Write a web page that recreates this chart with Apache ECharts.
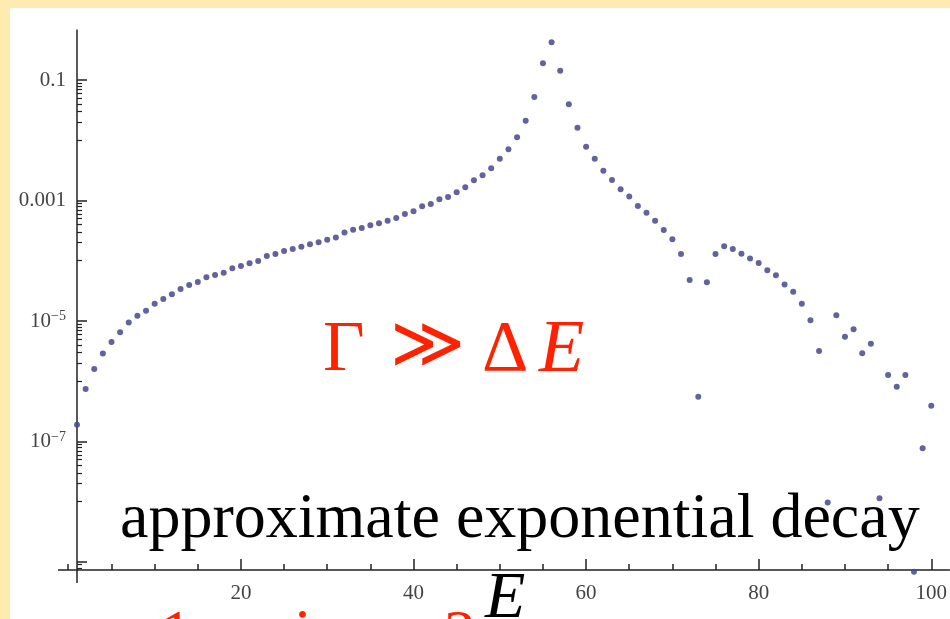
<!DOCTYPE html>
<html>
<head>
<meta charset="utf-8">
<script src="https://cdn.jsdelivr.net/npm/echarts@6/dist/echarts.min.js"></script>
<style>
html, body { margin: 0; padding: 0; background: #FFEAAF; }
#main { width: 950px; height: 619px; }
</style>
</head>
<body>
<div id="main"></div>
<script>
// energy index on the x axis
var energies = [1, 2, 3, 4, 5, 6, 7, 8, 9, 10,
  11, 12, 13, 14, 15, 16, 17, 18, 19, 20,
  21, 22, 23, 24, 25, 26, 27, 28, 29, 30,
  31, 32, 33, 34, 35, 36, 37, 38, 39, 40,
  41, 42, 43, 44, 45, 46, 47, 48, 49, 50,
  51, 52, 53, 54, 55, 56, 57, 58, 59, 60,
  61, 62, 63, 64, 65, 66, 67, 68, 69, 70,
  71, 72, 73, 74, 75, 76, 77, 78, 79, 80,
  81, 82, 83, 84, 85, 86, 87, 88, 89, 90,
  91, 92, 93, 94, 95, 96, 97, 98, 99, 100];

// probabilities
var probs = [1.9e-7, 7.4e-7, 1.6e-6, 2.9e-6, 4.5e-6, 6.5e-6, 9.4e-6, 1.22e-5, 1.48e-5, 1.94e-5,
  2.32e-5, 2.77e-5, 3.4e-5, 3.96e-5, 4.44e-5, 5.31e-5, 5.8e-5, 6.33e-5, 7.5e-5, 8.19e-5,
  9.07e-5, 9.91e-5, 1.2e-4, 1.29e-4, 1.45e-4, 1.57e-4, 1.71e-4, 1.87e-4, 2.03e-4, 2.23e-4,
  2.43e-4, 2.94e-4, 3.27e-4, 3.5e-4, 3.88e-4, 4.19e-4, 4.62e-4, 5.13e-4, 5.97e-4, 6.62e-4,
  8.02e-4, 8.75e-4, 1.05e-3, 1.14e-3, 1.37e-3, 1.66e-3, 2.16e-3, 2.62e-3, 3.42e-3, 4.94e-3,
  7.08e-3, 1.12e-2, 2.11e-2, 5.22e-2, 0.189, 0.423, 0.143, 3.95e-2, 1.62e-2, 7.81e-3,
  4.94e-3, 3.13e-3, 2.19e-3, 1.53e-3, 1.16e-3, 8.11e-4, 6.28e-4, 4.62e-4, 3.24e-4, 2.27e-4,
  1.29e-4, 4.79e-5, 5.55e-7, 4.39e-5, 1.29e-4, 1.74e-4, 1.57e-4, 1.31e-4, 1.09e-4, 9.18e-5,
  6.97e-5, 5.75e-5, 4.03e-5, 3.05e-5, 1.94e-5, 1.03e-5, 3.18e-6, 9.7e-9, 1.25e-5, 5.49e-6,
  7.27e-6, 2.91e-6, 4.21e-6, 1.14e-8, 1.27e-6, 8.13e-7, 1.27e-6, 6.9e-10, 7.7e-8, 3.92e-7];

// axis ticks and labels
var xLabelValues = [20, 40, 60, 80, 100];
var xMinorTicks = [5, 10, 15, 25, 30, 35, 45, 50, 55, 65, 70, 75, 85, 90, 95];
var yLabelValues = [0.1, 0.001, 1e-5, 1e-7];
var yLabelTexts = ['0.1', '0.001', '10{sup|\u22125}', '10{sup|\u22127}'];
var yMajorTicks = [0.1, 0.001, 1e-5, 1e-7, 1e-9];

var yMinorTicks = [];
yMajorTicks.forEach(function (m) {
  for (var k = 1; k <= 9; k++) yMinorTicks.push(m * k / 10);
});

var yMin = Math.pow(10, -9.133);
var yMax = Math.pow(10, -0.17);
var axisColor = '#222';

var points = energies.map(function (e, i) { return [e, probs[i]]; });

var myChart = echarts.init(document.getElementById('main'));

var option = {
  backgroundColor: '#FFEAAF',
  animation: false,
  grid: { left: 77, right: 0, top: 30, bottom: 49 },
  xAxis: [
    {
      type: 'value', min: 1, max: 102.1,
      splitLine: { show: false },
      axisLine: { lineStyle: { color: axisColor, width: 1.5 } },
      axisTick: { inside: true, length: 11, customValues: xLabelValues,
        lineStyle: { color: axisColor, width: 1.5 } },
      axisLabel: { customValues: xLabelValues, margin: 13,
        fontFamily: 'Liberation Serif', fontSize: 21, color: '#444' }
    },
    {
      type: 'value', min: 1, max: 102.1, position: 'bottom',
      splitLine: { show: false },
      axisLine: { show: false },
      axisTick: { inside: true, length: 6, customValues: xMinorTicks,
        lineStyle: { color: axisColor, width: 1.5 } },
      axisLabel: { show: false }
    }
  ],
  yAxis: [
    {
      type: 'log', logBase: 10, min: yMin, max: yMax,
      splitLine: { show: false },
      axisLine: { show: true, lineStyle: { color: axisColor, width: 1.5 } },
      axisTick: { inside: true, length: 10, customValues: yMajorTicks,
        lineStyle: { color: axisColor, width: 1.5 } },
      axisLabel: {
        customValues: yLabelValues, margin: 11,
        fontFamily: 'Liberation Serif', fontSize: 21, color: '#444',
        formatter: function (v) {
          var best = 0, bd = Infinity;
          yLabelValues.forEach(function (t, i) {
            var d = Math.abs(Math.log10(t) - Math.log10(v));
            if (d < bd) { bd = d; best = i; }
          });
          return yLabelTexts[best];
        },
        rich: {
          sup: { fontFamily: 'Liberation Serif', fontSize: 14, color: '#444',
            padding: [0, 0, 9, 0] }
        }
      }
    },
    {
      type: 'log', logBase: 10, min: yMin, max: yMax, position: 'left',
      splitLine: { show: false },
      axisLine: { show: false },
      axisTick: { inside: true, length: 5, customValues: yMinorTicks,
        lineStyle: { color: axisColor, width: 1.2 } },
      axisLabel: { show: false }
    }
  ],
  series: [
    {
      type: 'scatter',
      data: points,
      clip: false,
      symbol: 'circle',
      symbolSize: 6,
      itemStyle: { color: '#47478c', opacity: 0.85 }
    }
  ],
  graphic: [
    { type: 'rect', z: -10, shape: { x: 10, y: 8, width: 940, height: 611 },
      style: { fill: '#ffffff' } },
    // axis line stubs beyond the crossing point
    { type: 'line', shape: { x1: 58, y1: 570, x2: 77, y2: 570 },
      style: { stroke: axisColor, lineWidth: 1.5 } },
    { type: 'line', shape: { x1: 77, y1: 570, x2: 77, y2: 583 },
      style: { stroke: axisColor, lineWidth: 1.5 } },
    { type: 'line', shape: { x1: 68, y1: 564, x2: 68, y2: 570 },
      style: { stroke: axisColor, lineWidth: 1.5 } },
    // annotations
    { type: 'text', z: 100, style: { text: '\u0393', x: 323, y: 315,
        font: '72px "Liberation Serif"', fill: '#ff2200', verticalAlign: 'top' } },
    { type: 'text', z: 100, style: { text: '\u226B', x: 390, y: 312,
        font: '200 72px "DejaVu Sans"', fill: '#ff2200', verticalAlign: 'top' } },
    { type: 'text', z: 100, style: { text: '\u0394', x: 482, y: 315,
        font: '72px "Liberation Serif"', fill: '#ff2200', verticalAlign: 'top' } },
    { type: 'text', z: 100, style: { text: 'E', x: 539, y: 315,
        font: 'italic 74px "Liberation Serif"', fill: '#ff2200', verticalAlign: 'top' } },
    { type: 'text', z: 100, style: { text: 'approximate exponential decay', x: 120, y: 488,
        font: '64px "Liberation Serif"', fill: '#000', verticalAlign: 'top' } },
    { type: 'text', z: 100, style: { text: 'E', x: 485, y: 567,
        font: 'italic 66px "Liberation Serif"', fill: '#000', verticalAlign: 'top' } },
    { type: 'text', z: 100, style: { text: '1', x: 160, y: 605,
        font: '64px "Liberation Serif"', fill: '#ff2200', verticalAlign: 'top' } },
    { type: 'text', z: 100, style: { text: 'i', x: 294, y: 604,
        font: '64px "Liberation Serif"', fill: '#ff2200', verticalAlign: 'top' } },
    { type: 'text', z: 100, style: { text: '2', x: 444, y: 605,
        font: '64px "Liberation Serif"', fill: '#ff2200', verticalAlign: 'top' } }
  ]
};

myChart.setOption(option);

window.addEventListener('resize', function () {
  myChart.resize();
});
</script>
</body>
</html>
